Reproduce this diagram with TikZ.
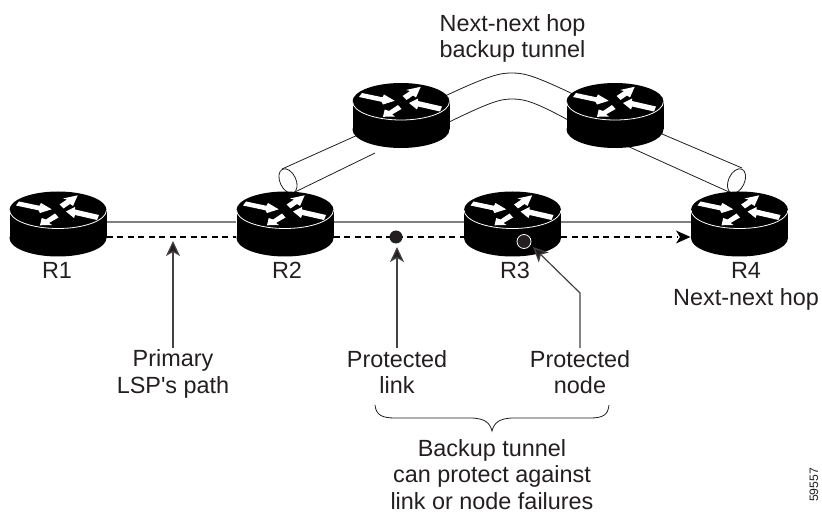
\documentclass[tikz,border=0pt]{standalone}
\usepackage{fontspec}
\setmainfont{Liberation Sans}[Ligatures=TeXOff]
\usetikzlibrary{arrows.meta,calc}
\definecolor{ink}{HTML}{231F20}
\tikzset{
  x=1pt,y=-1pt,
  routerbody/.style={minimum width=97pt,minimum height=65pt,inner sep=0pt},
  lbl/.style={font=\fontsize{23.4}{26.5}\selectfont,align=center,inner sep=0pt,text=ink},
  primaryline/.style={draw=gray,line width=1.5pt},
  lspline/.style={draw=black,line width=1.3pt,dash pattern=on 6pt off 4.5pt},
  tube/.style={draw=ink,line width=.8pt},
  callout/.style={draw=ink!85!white,line width=1.2pt,-{Stealth[length=15pt,width=14pt,inset=4pt,fill=ink]}},
  whitearrow/.style={fill=white,draw=none},
}
% \router{name}{cx}{cy}: cx,cy = centre of the whole router
\newcommand{\router}[3]{%
  \node[routerbody] (#1) at (#2,#3) {};
  \begin{scope}[shift={(#2,#3-14)}]
    \fill[black] (0,0) ellipse[x radius=48.5,y radius=18.5];
    \fill[black] (0,28) ellipse[x radius=48.5,y radius=18.5];
    \fill[black] (-48.5,0) rectangle (48.5,28);
    \draw[white,line width=.8pt] (-48.5,0) arc[start angle=180,end angle=0,x radius=48.5,y radius=18.5];
    \fill[whitearrow] (-39,-8.5) -- (-18.5,-4.2) -- (-17,-7) -- (-6.3,-.7) -- (-18,3) -- (-19.5,.3) -- (-42,-4.5) -- cycle;
    \fill[whitearrow] (1.5,-5.5) -- (9,-10.5) -- (5,-11.5) -- (19.7,-14.7) -- (15,-4) -- (12,-6) -- (5.5,-1.5) -- cycle;
    \fill[whitearrow] (41,5) -- (17,-.5) -- (17,-3) -- (8,1.5) -- (16,8) -- (17,5) -- (39,10) -- cycle;
    \fill[whitearrow] (-3,3.5) -- (-12,9.5) -- (-16.3,8) -- (-18,15.3) -- (-6,15) -- (-9,13) -- (.5,7.5) -- cycle;
  \end{scope}}
\begin{document}
\begin{tikzpicture}
\useasboundingbox (0,0) rectangle (822,513);
\fill[white] (0,0) rectangle (822,513);
% named ends
\coordinate (tubeA) at (288,181);
\coordinate (tubeB) at (736.5,181);
% tubes
\draw[tube] (282,169) -- (360,134);
\draw[tube] (295,192) -- (375,153);
\draw[tube] (445,96) .. controls (490,75) and (500,73) .. (512,73) .. controls (525,73) and (535,76) .. (575,95);
\draw[tube] (445,124) .. controls (490,102) and (500,99) .. (512,99) .. controls (525,99) and (535,102) .. (570,121);
\draw[tube] (655,131) -- (742,168);
\draw[tube] (625,145) -- (729,192);
\draw[tube,rotate around={25:(tubeA)}] (tubeA) ellipse[x radius=8,y radius=13];
\draw[tube,rotate around={-25:(tubeB)}] (tubeB) ellipse[x radius=8,y radius=13];
% routers
\router{r1}{58}{224}
\router{r2}{285}{224}
\router{r3}{512.5}{224}
\router{r4}{739.5}{224}
\router{t1}{401}{115.5}
\router{t2}{615}{115.5}
% links
\coordinate (s1) at (r1.east|-0,222); \coordinate (s2) at (r2.west|-0,222);
\coordinate (s3) at (r2.east|-0,222); \coordinate (s4) at (r3.west|-0,222);
\coordinate (s5) at (r3.east|-0,222); \coordinate (s6) at (r4.west|-0,222);
\coordinate (d1) at (r1.east|-0,237); \coordinate (d2) at (r2.west|-0,237);
\coordinate (d3) at (r2.east|-0,237); \coordinate (d4) at (r3.west|-0,237);
\coordinate (d5) at (r3.east|-0,237); \coordinate (d6) at (r4.west|-0,237);
\draw[primaryline] (s1) -- (s2);
\draw[primaryline] (s3) -- (s4);
\draw[primaryline] (s5) -- (s6);
\draw[lspline] (d1) -- (d2);
\draw[lspline] (d3) -- (d4);
\draw[lspline] (d5) -- (678,237);
\fill[black] (676,230.5) -- (690.5,237) -- (676,243.5) -- (680,237) -- cycle;
% faults
\node[circle,fill=ink,minimum size=13pt,inner sep=0pt] (flink) at (396,237) {};
\node[circle,fill=ink,draw=white,line width=.8pt,minimum size=14pt,inner sep=0pt] (fnode) at (524,241.5) {};
% labels
\node[lbl] (lr1) at (57,270.5) {R1};
\node[lbl] (lr2) at (287,270.5) {R2};
\node[lbl] (lr3) at (515,270.5) {R3};
\node[lbl] (lr4) at (746,286.5) {R4\\Next-next hop};
\node[lbl] (ltun) at (512.5,38.5) {Next-next hop\\backup tunnel};
\node[lbl] (lprim) at (173,374) {Primary\\LSP's path};
\node[lbl] (lplink) at (397,372) {Protected\\link};
\node[lbl] (lpnode) at (580,372) {Protected\\node};
\node[lbl] (lbak) at (492,474.5) {Backup tunnel\\can protect against\\link or node failures};
\node[font=\fontsize{12.2}{14}\selectfont,rotate=90,text=ink,inner sep=0pt] (lid) at (814,485) {59557};
% callouts
\coordinate (p1) at (173,241); \coordinate (p1b) at (173,348);
\coordinate (p2) at (397,247); \coordinate (p2b) at (397,348);
\coordinate (p3) at (533,247); \coordinate (p3k) at (580,293); \coordinate (p3b) at (580,348);
\draw[callout] (p1b) -- (p1);
\draw[callout] (p2b) -- (p2);
\draw[callout] (p3b) -- (p3k) -- (p3);
% brace
\draw[ink,line width=.8pt] (375,405) .. controls (376,415) and (382,418) .. (395,418) -- (470,418) .. controls (485,418) and (490,423) .. (492,431) .. controls (494,423) and (499,418) .. (514,418) -- (590,418) .. controls (603,418) and (608,415) .. (609,405);
\end{tikzpicture}
\end{document}
